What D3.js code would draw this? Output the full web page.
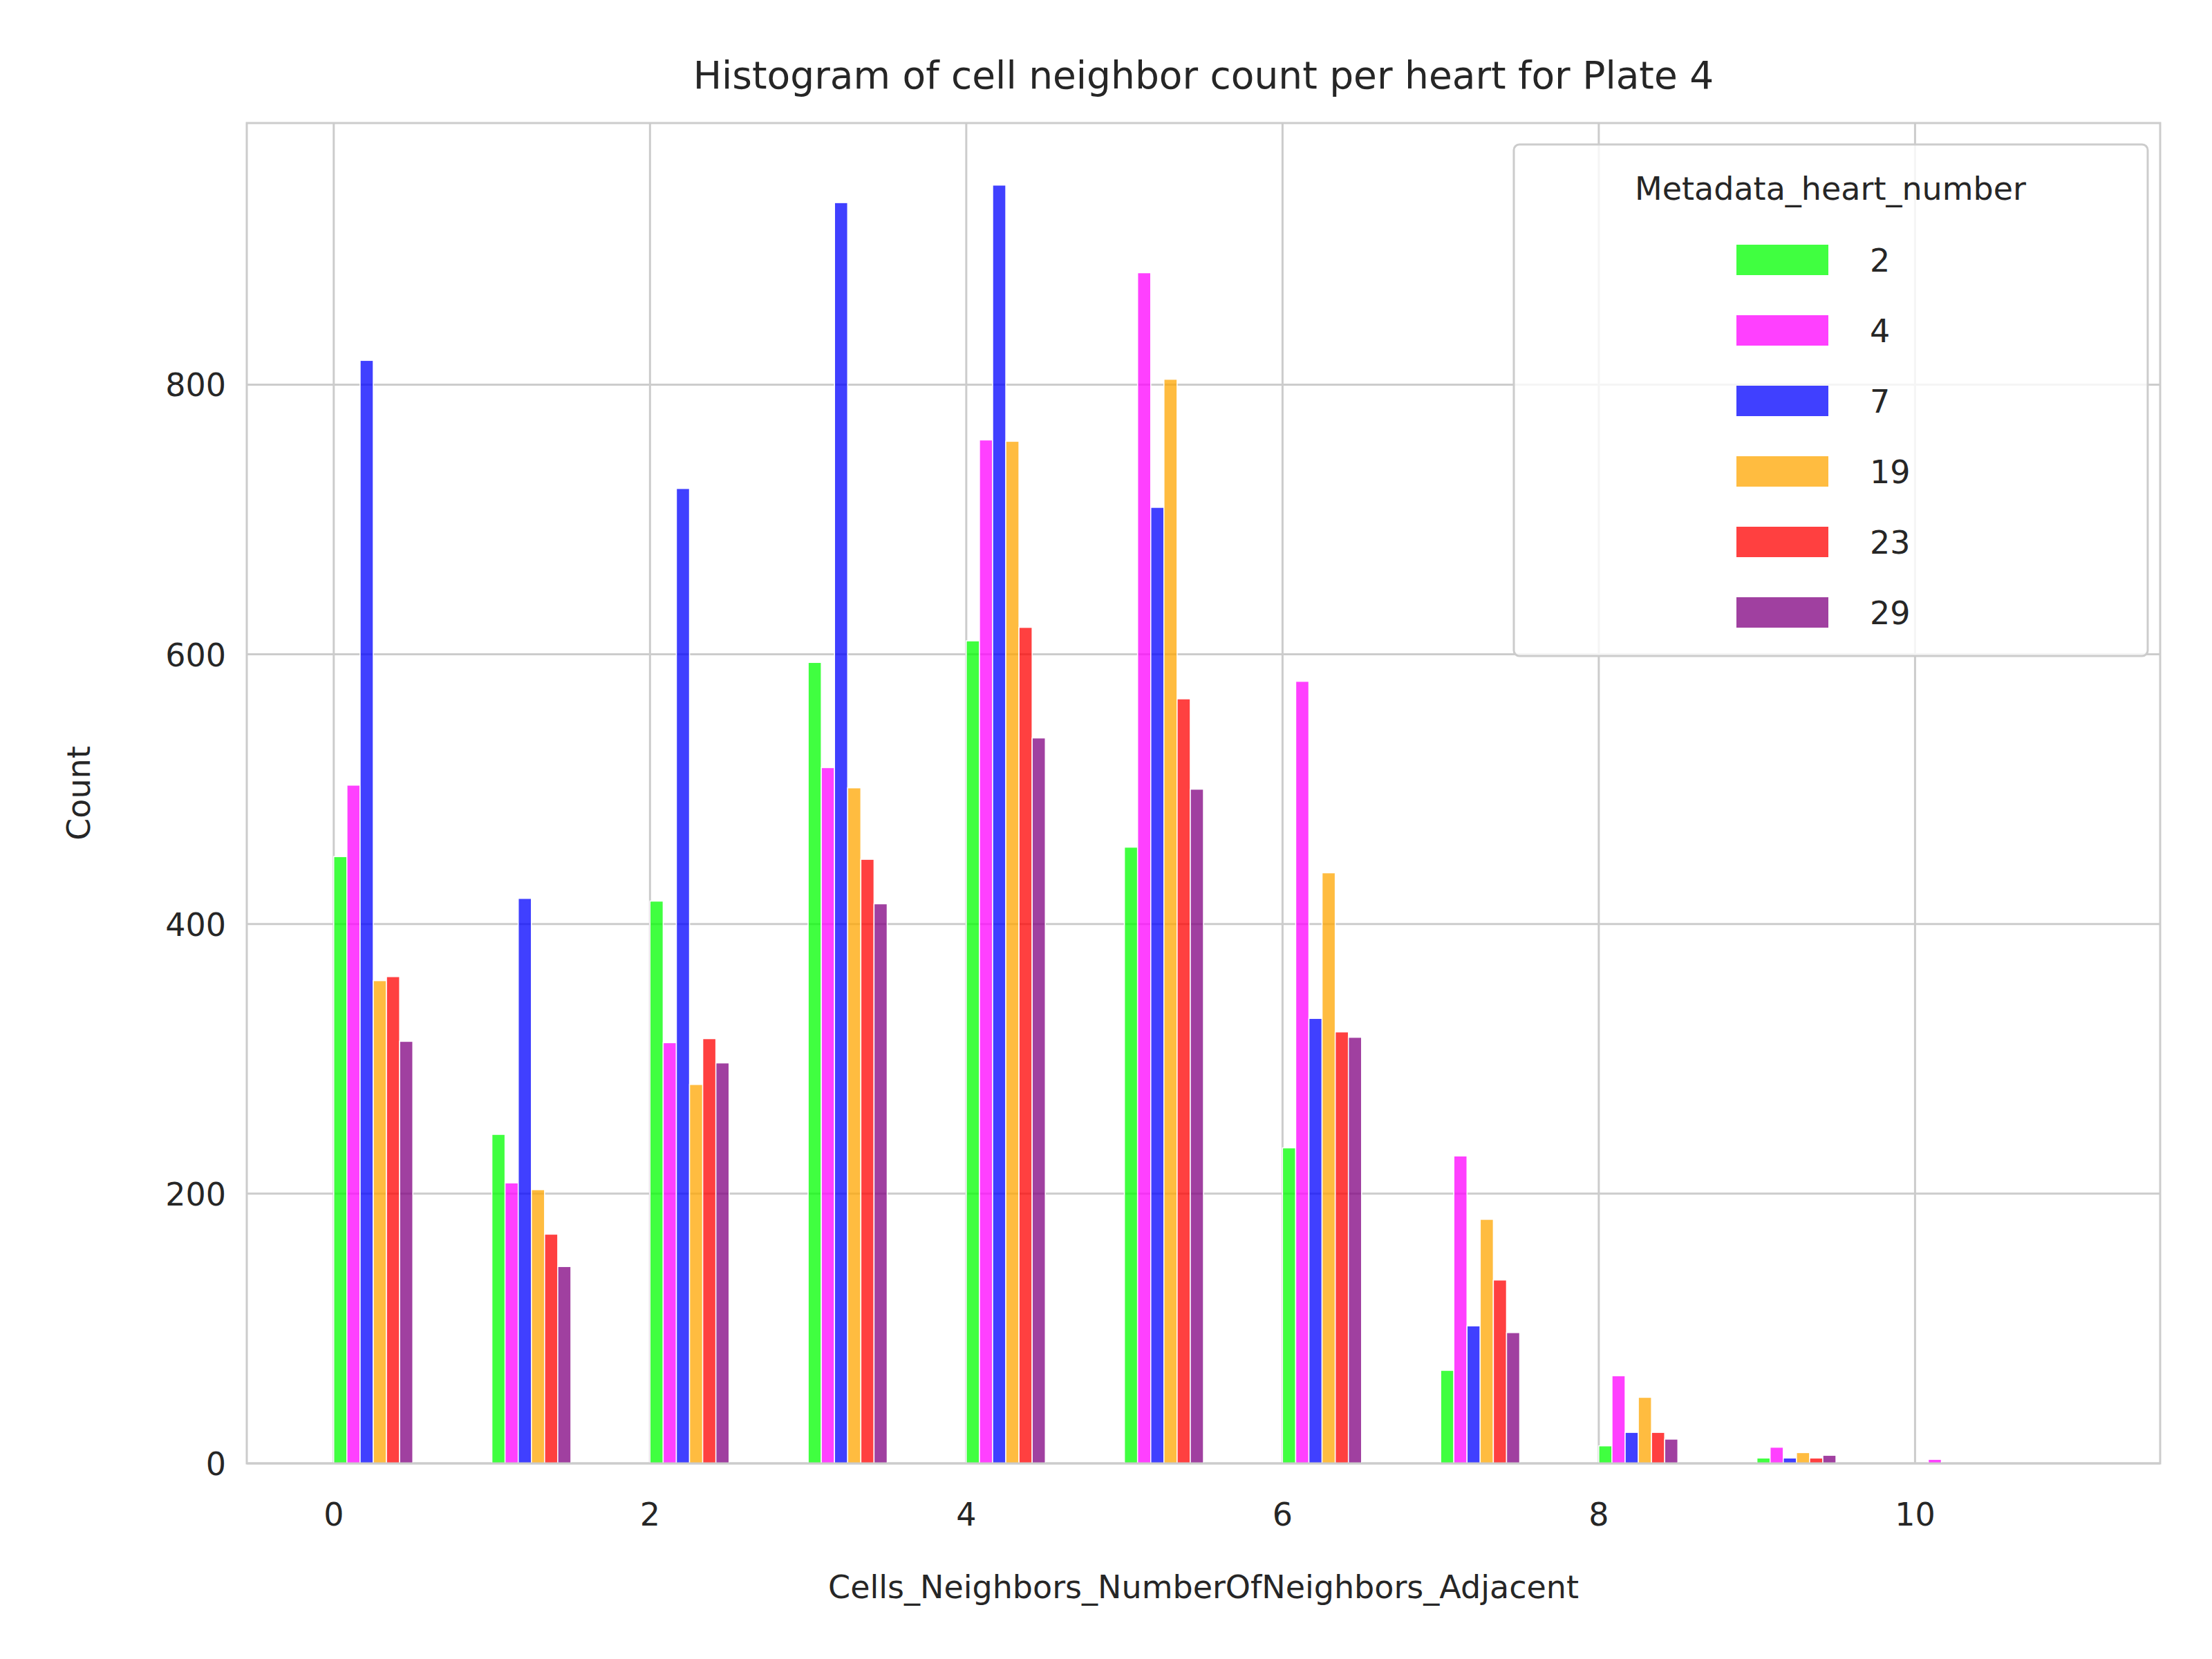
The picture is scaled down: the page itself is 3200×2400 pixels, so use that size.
<!DOCTYPE html>
<html>
<head>
<meta charset="utf-8">
<script src="https://cdn.jsdelivr.net/npm/d3@7"></script>
<style>
  body { margin: 0; background: #fff; }
  text { font-family: "DejaVu Sans", sans-serif; fill: #262626; }
</style>
</head>
<body>
<div></div>
<script>
'use strict';

// Bin starts (bin width 0.5)
var binStarts = [0, 1, 2, 3, 4, 5, 6, 7, 8, 9, 10];
var hearts = ["2", "4", "7", "19", "23", "29"];
var heartColors = ["#00ff00", "#ff00ff", "#0000ff", "#ffa500", "#ff0000", "#800080"];
var counts = {
  "2":  [450, 244, 417, 594, 610, 457, 234, 69, 13, 4, 0],
  "4":  [503, 208, 312, 516, 759, 883, 580, 228, 65, 12, 3],
  "7":  [818, 419, 723, 935, 948, 709, 330, 102, 23, 4, 0],
  "19": [358, 203, 281, 501, 758, 804, 438, 181, 49, 8, 0],
  "23": [361, 170, 315, 448, 620, 567, 320, 136, 23, 4, 0],
  "29": [313, 146, 297, 415, 538, 500, 316, 97, 18, 6, 0]
};
var xTicks = [0, 2, 4, 6, 8, 10];
var yTicks = [0, 200, 400, 600, 800];

var svgWidth = 3200, svgHeight = 2400;
var margin = {top: 178, right: 75, bottom: 283, left: 357};
var chartWidth = svgWidth - margin.left - margin.right;
var chartHeight = svgHeight - margin.top - margin.bottom;
var binWidth = 0.5;

var xScale = d3.scaleLinear().domain([-0.55, 11.55]).range([0, chartWidth]);
var yScale = d3.scaleLinear().domain([0, 994]).range([chartHeight, 0]);

var svg = d3.select("div").append("svg")
    .attr("width", svgWidth).attr("height", svgHeight);
var chart = svg.append("g")
    .attr("transform", "translate(" + margin.left + "," + margin.top + ")");

// Grid
chart.append("g").selectAll("line").data(xTicks).enter().append("line")
    .attr("x1", function(d) { return xScale(d); }).attr("x2", function(d) { return xScale(d); })
    .attr("y1", 0).attr("y2", chartHeight)
    .attr("stroke", "#cccccc").attr("stroke-width", 3);
chart.append("g").selectAll("line").data(yTicks).enter().append("line")
    .attr("y1", function(d) { return yScale(d); }).attr("y2", function(d) { return yScale(d); })
    .attr("x1", 0).attr("x2", chartWidth)
    .attr("stroke", "#cccccc").attr("stroke-width", 3);

// Bars
var sub = binWidth / hearts.length;
var rows = [];
hearts.forEach(function(h, j) {
  binStarts.forEach(function(b, i) {
    rows.push({heart: h, j: j, x: b + j * sub, v: counts[h][i]});
  });
});
chart.append("g").selectAll("rect").data(rows).enter().append("rect")
    .attr("x", function(d) { return xScale(d.x); })
    .attr("width", function(d) { return xScale(d.x + sub) - xScale(d.x); })
    .attr("y", function(d) { return yScale(d.v); })
    .attr("height", function(d) { return yScale(0) - yScale(d.v); })
    .attr("fill", function(d) { return heartColors[d.j]; })
    .attr("fill-opacity", 0.75)
    .attr("stroke", "#ffffff").attr("stroke-width", 1.5);

// Frame
chart.append("rect").attr("width", chartWidth).attr("height", chartHeight)
    .attr("fill", "none").attr("stroke", "#cccccc").attr("stroke-width", 3);

// Tick labels
chart.append("g").selectAll("text").data(xTicks).enter().append("text")
    .attr("x", function(d) { return xScale(d); }).attr("y", chartHeight + 90)
    .attr("text-anchor", "middle").attr("font-size", 46).text(function(d) { return d; });
chart.append("g").selectAll("text").data(yTicks).enter().append("text")
    .attr("x", -30).attr("y", function(d) { return yScale(d) + 17; })
    .attr("text-anchor", "end").attr("font-size", 46).text(function(d) { return d; });

// Axis labels & title
chart.append("text").attr("x", chartWidth / 2).attr("y", chartHeight + 195)
    .attr("text-anchor", "middle").attr("font-size", 46)
    .text("Cells_Neighbors_NumberOfNeighbors_Adjacent");
chart.append("text").attr("transform", "translate(-227," + chartHeight / 2 + ") rotate(-90)")
    .attr("text-anchor", "middle").attr("font-size", 46).text("Count");
chart.append("text").attr("x", chartWidth / 2).attr("y", -50)
    .attr("text-anchor", "middle").attr("font-size", 55)
    .text("Histogram of cell neighbor count per heart for Plate 4");

// Legend
var legend = svg.append("g").attr("transform", "translate(2190,209)");
legend.append("rect").attr("width", 917).attr("height", 740).attr("rx", 8)
    .attr("fill", "#ffffff").attr("fill-opacity", 0.8)
    .attr("stroke", "#cccccc").attr("stroke-width", 3);
legend.append("text").attr("x", 458).attr("y", 80).attr("text-anchor", "middle")
    .attr("font-size", 46).text("Metadata_heart_number");
legend.selectAll(".patch").data(hearts).enter().append("rect")
    .attr("x", 322).attr("y", function(d, i) { return 145 + i * 102; })
    .attr("width", 133).attr("height", 44)
    .attr("fill", function(d, i) { return heartColors[i]; }).attr("fill-opacity", 0.75);
legend.selectAll(".lab").data(hearts).enter().append("text")
    .attr("x", 515).attr("y", function(d, i) { return 184 + i * 102; })
    .attr("font-size", 46).text(function(d) { return d; });
</script>
</body>
</html>
